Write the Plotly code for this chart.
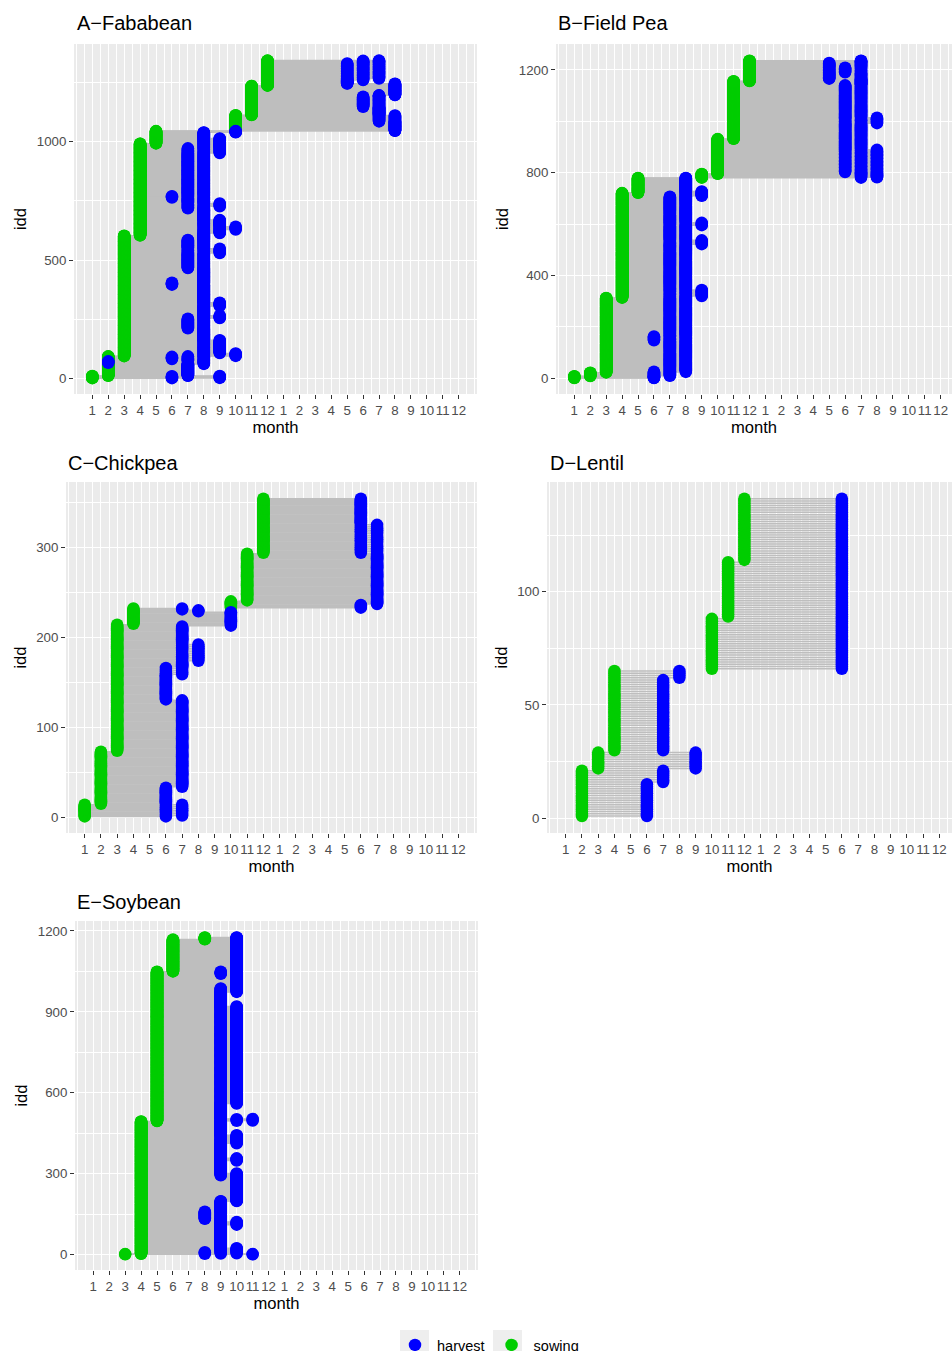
import plotly.graph_objects as go

# ---------------- data ----------------
# x positions 1..24 = months of a two-season axis (1..12, then 1..12 again)
MONTH_TICKS = list(range(1, 25))
MONTH_LABELS = ["1", "2", "3", "4", "5", "6", "7", "8", "9", "10", "11", "12",
                "1", "2", "3", "4", "5", "6", "7", "8", "9", "10", "11", "12"]

# Each run: rows idd FIRST..LAST, sowing month SOW, harvest months cycled from HARVEST
A_FIRST = [1, 11, 61, 66, 73, 80, 94, 106, 163, 211, 254, 267, 305, 321, 395, 406, 465, 528, 550, 586,
           604, 613, 627, 642, 670, 718, 725, 741, 762, 773, 950, 973, 993, 1015, 1040,
           1046, 1085, 1113, 1148, 1191, 1197, 1237, 1246, 1260, 1265, 1332]
A_LAST = [10, 60, 65, 72, 79, 93, 105, 162, 210, 253, 266, 304, 320, 394, 405, 464, 527, 549, 585, 603,
          612, 626, 641, 669, 717, 724, 740, 761, 772, 949, 972, 992, 1014, 1039, 1045,
          1084, 1112, 1147, 1190, 1196, 1236, 1245, 1259, 1264, 1331, 1343]
A_SOW = [1, 2, 2, 2, 2, 2, 3, 3, 3, 3, 3, 3, 3, 3, 3, 3, 3, 3, 3, 3,
         4, 4, 4, 4, 4, 4, 4, 4, 4, 4, 4, 4, 5, 5, 5,
         10, 10, 11, 11, 11, 11, 12, 12, 12, 12, 12]
A_HARVEST = [(6, 9), (7,), (8, 7), (2, 8), (8, 7), (8, 7, 6), (8, 10), (8, 9), (8,), (8, 7), (8, 9), (8,),
             (8, 9), (8,), (8, 6), (8,), (8, 7), (8, 7, 9), (8, 7), (8,),
             (8,), (8, 9), (8, 9, 10), (8, 9), (8,), (8, 7), (8, 7, 9), (8, 7), (8, 7, 6), (8, 7),
             (8, 7, 9), (8, 9), (8, 9), (8,), (10,),
             (20,), (20, 19), (19,), (18, 19), (19,), (20,), (20,), (17,), (17, 18), (17, 18, 19), (18, 19)]

B_FIRST = [1, 9, 23, 28, 148, 164, 314, 318, 345, 520, 538, 594, 607, 709, 722, 729,
           781, 796, 803, 891, 932, 991, 1016, 1141, 1157, 1166, 1190, 1211, 1228]
B_LAST = [8, 22, 27, 147, 163, 313, 317, 344, 519, 537, 593, 606, 708, 721, 728, 780,
          795, 802, 890, 931, 990, 1015, 1140, 1156, 1165, 1189, 1210, 1227, 1236]
B_SOW = [1, 2, 3, 3, 3, 3, 4, 4, 4, 4, 4, 4, 4, 4, 5, 5,
         9, 10, 10, 10, 11, 11, 11, 11, 12, 12, 12, 12, 12]
B_HARVEST = [(6,), (6, 7), (6, 7, 8), (7, 8), (6, 7, 8), (7, 8), (7, 8), (7, 8, 9), (7, 8), (7, 8, 9),
             (7, 8), (7, 8, 9), (7, 8), (8, 9), (8, 9), (8,),
             (19, 20), (19, 20), (18, 19, 20), (18, 19), (18, 19), (18, 19, 20), (18, 19), (19,),
             (19,), (17, 19), (17, 18, 19), (17, 19), (19,)]

C_FIRST = [1, 15, 34, 74, 131, 158, 167, 173, 193, 213, 215, 229, 231, 233, 237, 241, 294, 326]
C_LAST = [14, 33, 73, 130, 157, 166, 172, 192, 212, 214, 228, 230, 232, 236, 240, 293, 325, 354]
C_SOW = [1, 2, 2, 3, 3, 3, 3, 3, 3, 3, 4, 4, 4, 10, 10, 11, 12, 12]
C_HARVEST = [(6, 7), (6,), (7,), (7,), (6,), (6, 7), (7,), (7, 8), (7,), (10,), (10,), (8,), (7,),
             (18,), (19,), (19,), (18, 19), (18,)]

D_FIRST = [1, 16, 22, 30, 62, 66, 89, 114]
D_LAST = [15, 21, 29, 61, 65, 88, 113, 141]
D_SOW = [2, 2, 3, 4, 4, 10, 11, 12]
D_HARVEST = [(6,), (7,), (9,), (7,), (8,), (18,), (18,), (18,)]

E_FIRST = [1, 3, 11, 26, 110, 123, 133, 161, 199, 294, 303, 348, 359, 412, 445,
           495, 504, 559, 921, 973, 989, 1041, 1050, 1169]
E_LAST = [2, 10, 25, 109, 122, 132, 160, 198, 293, 302, 347, 358, 411, 444, 494,
          503, 558, 920, 972, 988, 1040, 1049, 1168, 1176]
E_SOW = [3, 4, 4, 4, 4, 4, 4, 4, 4, 4, 4, 4, 4, 4, 4,
         5, 5, 5, 5, 5, 5, 5, 6, 8]
E_HARVEST = [(11,), (8, 9, 10), (9, 10), (9,), (9, 10), (9,), (8, 9), (9,), (10,), (9, 10), (9,), (9, 10),
             (9,), (9, 10), (9,),
             (9, 10, 11), (9,), (9, 10), (9,), (9, 10), (10,), (9, 10), (10,), (10,)]

TITLES = ["A\u2212Fababean", "B\u2212Field Pea", "C\u2212Chickpea", "D\u2212Lentil", "E\u2212Soybean"]
LEGEND_NAMES = ["harvest", "sowing"]

# ---------------- styling / layout ----------------
W = 952
H = 1368   # figure a bit taller than the 1351 window; the bottom (like the reference) is cut off
FONT = "Liberation Sans, Arial, sans-serif"
GREEN = "#00CD00"
BLUE = "#0000FF"
SEG = "#BEBEBE"
PANEL_BG = "#EBEBEB"

# pixel geometry of each panel: left, right, top, bottom, x range, y range, y major, y minor, title xy
GEOM = [
    dict(l=74, r=477, t=44, b=394, xr=[-0.15, 25.15], yr=[-66, 1413],
         ymaj=[0, 500, 1000], ymin=[250, 750, 1250], tx=75, ty=23),
    dict(l=556, r=952, t=44, b=394, xr=[-0.15, 24.71], yr=[-61, 1301],
         ymaj=[0, 400, 800, 1200], ymin=[200, 600, 1000], tx=556, ty=23),
    dict(l=66, r=477, t=482, b=833, xr=[-0.15, 25.15], yr=[-17.4, 372.6],
         ymaj=[0, 100, 200, 300], ymin=[50, 150, 250, 350], tx=66, ty=463),
    dict(l=547, r=952, t=482, b=833, xr=[-0.15, 24.78], yr=[-6.5, 148.4],
         ymaj=[0, 50, 100], ymin=[25, 75, 125], tx=548, ty=463),
    dict(l=75, r=478, t=921, b=1270, xr=[-0.15, 25.15], yr=[-57, 1237],
         ymaj=[0, 300, 600, 900, 1200], ymin=[150, 450, 750, 1050], tx=75, ty=902),
]
X_MINOR = [0, 25] + [k / 2 for k in range(1, 50, 2)]

PANELS = [
    (A_FIRST, A_LAST, A_SOW, A_HARVEST),
    (B_FIRST, B_LAST, B_SOW, B_HARVEST),
    (C_FIRST, C_LAST, C_SOW, C_HARVEST),
    (D_FIRST, D_LAST, D_SOW, D_HARVEST),
    (E_FIRST, E_LAST, E_SOW, E_HARVEST),
]


def expand(first, last, sow, harvest):
    ids, s, h = [], [], []
    for f, l, sw, hv in zip(first, last, sow, harvest):
        for k, i in enumerate(range(f, l + 1)):
            ids.append(i)
            s.append(sw)
            h.append(hv[k % len(hv)])
    return ids, s, h


def px_x(p):
    return p / W


def px_y(p):
    return 1 - p / H


fig = go.Figure()
layout = dict(
    width=W, height=H, margin=dict(l=0, r=0, t=0, b=0),
    paper_bgcolor="white", plot_bgcolor=PANEL_BG,
    font=dict(family=FONT, color="#000000"),
    showlegend=True,
    annotations=[], shapes=[],
)

for p, ((first, last, sow, harvest), g, title) in enumerate(zip(PANELS, GEOM, TITLES)):
    n = p + 1
    xa = "x" if n == 1 else f"x{n}"
    ya = "y" if n == 1 else f"y{n}"
    ids, s, h = expand(first, last, sow, harvest)

    seg_x, seg_y = [], []
    for i, a, b in zip(ids, s, h):
        seg_x += [a, b, None]
        seg_y += [i, i, None]

    fig.add_trace(go.Scatter(x=seg_x, y=seg_y, mode="lines",
                             line=dict(color=SEG, width=1.5),
                             xaxis=xa, yaxis=ya, showlegend=False, hoverinfo="skip"))
    fig.add_trace(go.Scatter(x=s, y=ids, mode="markers", name=LEGEND_NAMES[1],
                             marker=dict(color=GREEN, size=12.5, line=dict(width=0)),
                             xaxis=xa, yaxis=ya, showlegend=(n == 1), legendrank=2))
    fig.add_trace(go.Scatter(x=h, y=ids, mode="markers", name=LEGEND_NAMES[0],
                             marker=dict(color=BLUE, size=12.5, line=dict(width=0)),
                             xaxis=xa, yaxis=ya, showlegend=(n == 1), legendrank=1))

    xkey = "xaxis" if n == 1 else f"xaxis{n}"
    ykey = "yaxis" if n == 1 else f"yaxis{n}"
    layout[xkey] = dict(
        domain=[px_x(g["l"]), px_x(g["r"])], anchor=ya, range=g["xr"],
        tickmode="array", tickvals=MONTH_TICKS, ticktext=MONTH_LABELS, tickangle=0,
        ticks="outside", ticklen=4, tickwidth=1.1, tickcolor="#333333",
        tickfont=dict(size=13.3, color="#4D4D4D", family=FONT),
        showgrid=True, gridcolor="white", gridwidth=1.3,
        minor=dict(tickvals=X_MINOR, showgrid=True, gridcolor="white", gridwidth=0.7, ticks=""),
        zeroline=False, showline=False,
        title=dict(text="month", font=dict(size=16.6, color="#000000", family=FONT), standoff=4),
        automargin=False,
    )
    layout[ykey] = dict(
        domain=[px_y(g["b"]), px_y(g["t"])], anchor=xa, range=g["yr"],
        tickmode="array", tickvals=g["ymaj"], ticktext=[str(v) for v in g["ymaj"]], tickangle=0,
        ticks="outside", ticklen=4, tickwidth=1.1, tickcolor="#333333",
        tickfont=dict(size=13.3, color="#4D4D4D", family=FONT),
        showgrid=True, gridcolor="white", gridwidth=1.3,
        minor=dict(tickvals=g["ymin"], showgrid=True, gridcolor="white", gridwidth=0.7, ticks=""),
        zeroline=False, showline=False,
        title=dict(text="idd", font=dict(size=16.6, color="#000000", family=FONT), standoff=5),
        automargin=False,
    )
    layout["annotations"].append(dict(
        text=title, xref="paper", yref="paper", x=px_x(g["tx"]), y=px_y(g["ty"]),
        xanchor="left", yanchor="middle", showarrow=False,
        font=dict(size=20, color="#000000", family=FONT)))

# legend key backgrounds
for x0 in (400, 493):
    layout["shapes"].append(dict(type="rect", xref="paper", yref="paper",
                                 x0=px_x(x0), x1=px_x(x0 + 29), y0=px_y(1360), y1=px_y(1330),
                                 fillcolor="#EEEEEE", line=dict(width=0), layer="below"))

layout["legend"] = dict(orientation="h", x=px_x(393), xanchor="left", y=px_y(1329), yanchor="top",
                        font=dict(size=14.5, family=FONT, color="#000000"),
                        bgcolor="rgba(0,0,0,0)", itemwidth=34, itemsizing="trace",
                        traceorder="normal", valign="middle")

fig.update_layout(**layout)
fig.write_html("out.html", config={"displayModeBar": False},
               post_script="document.body.style.margin='0';document.body.style.overflow='hidden';")
